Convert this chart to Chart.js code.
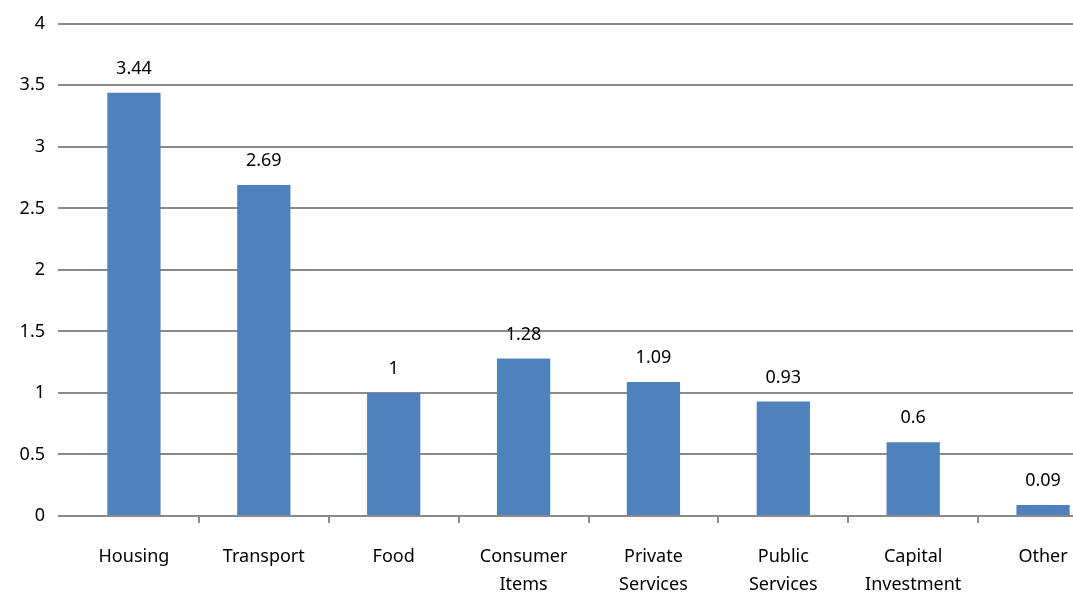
<!DOCTYPE html>
<html>
<head>
<meta charset="utf-8">
<script src="https://cdn.jsdelivr.net/npm/chart.js@4/dist/chart.umd.min.js"></script>
<style>
  html, body { margin: 0; padding: 0; background: #fff; overflow: hidden; }
  #wrap { width: 1110px; height: 593px; }
</style>
</head>
<body>
<div id="wrap"><canvas id="chart" width="1110" height="593"></canvas></div>
<script>
// categorias e valores
var categories = ['Housing', 'Transport', 'Food', ['Consumer', 'Items'], ['Private', 'Services'],
                  ['Public', 'Services'], ['Capital', 'Investment'], 'Other'];
var values = [3.44, 2.69, 1, 1.28, 1.09, 0.93, 0.6, 0.09];
var yTicks = [0, 0.5, 1, 1.5, 2, 2.5, 3, 3.5, 4];

var gridColor = '#8a8a8a';
var fontFamily = '"Noto Sans", "Open Sans", sans-serif';

// escreve o valor em cima de cada barra
var valueLabels = {
  id: 'valueLabels',
  afterDatasetsDraw: function(chart){
    var ctx = chart.ctx;
    var meta = chart.getDatasetMeta(0);
    ctx.save();
    ctx.font = '18px ' + fontFamily;
    ctx.fillStyle = '#000';
    ctx.textAlign = 'center';
    ctx.textBaseline = 'middle';
    meta.data.forEach(function(bar, i){
      ctx.fillText(String(values[i]), bar.x, bar.y - 24);
    });
    ctx.restore();
  }
};

new Chart(document.getElementById('chart'), {
  type: 'bar',
  data: {
    labels: categories,
    datasets: [{
      data: values,
      backgroundColor: '#4F81BD',
      borderWidth: 0,
      categoryPercentage: 1,
      barPercentage: 0.41
    }]
  },
  options: {
    responsive: false,
    animation: false,
    layout: { padding: { top: 16, right: 2, left: 0, bottom: 0 } },
    plugins: { legend: { display: false }, tooltip: { enabled: false } },
    scales: {
      y: {
        min: 0,
        max: 4,
        afterBuildTicks: function(scale){
          scale.ticks = yTicks.map(function(v){ return { value: v }; });
        },
        afterFit: function(scale){ scale.width = 69; },
        grid: { color: gridColor, lineWidth: 2, tickLength: 11, tickColor: gridColor },
        border: { display: false },
        ticks: {
          color: '#000',
          padding: 13,
          font: { family: fontFamily, size: 18 },
          callback: function(v){ return String(v); }
        }
      },
      x: {
        afterFit: function(scale){ scale.height = 77; },
        grid: {
          drawOnChartArea: false,
          tickLength: 7,
          lineWidth: 2,
          color: function(c){ return c.index === 0 ? 'rgba(0,0,0,0)' : gridColor; }
        },
        border: { display: true, color: gridColor, width: 2 },
        ticks: {
          color: '#000',
          padding: 19,
          maxRotation: 0,
          autoSkip: false,
          font: { family: fontFamily, size: 18, lineHeight: 1.6 }
        }
      }
    }
  },
  plugins: [valueLabels]
});
</script>
</body>
</html>
